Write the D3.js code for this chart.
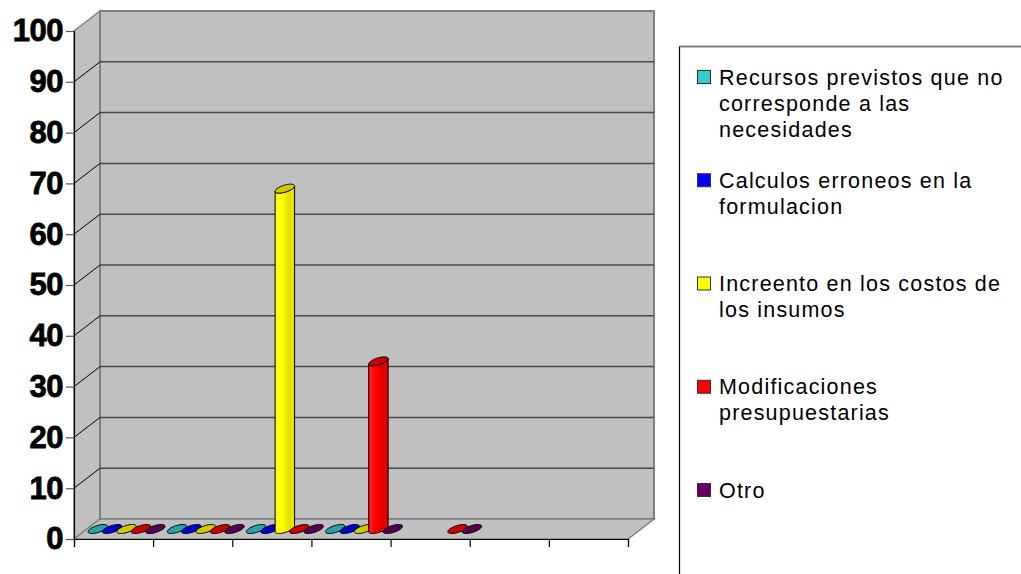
<!DOCTYPE html>
<html>
<head>
<meta charset="utf-8">
<script src="https://cdn.jsdelivr.net/npm/d3@7"></script>
<style>
  html, body { margin: 0; padding: 0; background: #ffffff; }
  svg { display: block; }
</style>
</head>
<body>
<svg id="chart" width="1021" height="574"></svg>
<script>
// ---- data ----
const categories = ["1", "2", "3", "4", "5", "6", "7"];
const seriesNames = [
  "Recursos previstos que no corresponde a las necesidades",
  "Calculos erroneos en la formulacion",
  "Increento en los costos de los insumos",
  "Modificaciones presupuestarias",
  "Otro"
];
const recursos       = [0, 0, 0,  0,  null, null, null];
const calculos       = [0, 0, 0,  0,  null, null, null];
const incremento     = [0, 0, 67, 0,  null, null, null];
const modificaciones = [0, 0, 0,  33, 0,    null, null];
const otro           = [0, 0, 0,  0,  0,    null, null];
const seriesValues = [recursos, calculos, incremento, modificaciones, otro];
const seriesColors = ["#33cccc", "#0000ff", "#ffff00", "#ff0000", "#660066"];
const yTicks = [0, 10, 20, 30, 40, 50, 60, 70, 80, 90, 100];
const legendLines = [
  ["Recursos previstos que no", "corresponde a las", "necesidades"],
  ["Calculos erroneos en la", "formulacion"],
  ["Increento en los costos de", "los insumos"],
  ["Modificaciones", "presupuestarias"],
  ["Otro"]
];

// ---- layout ----
const X0 = 74, X1 = 628;     // front floor edge
const Y0 = 539, Y1 = 31;     // front value axis (0 .. 100)
const DX = 26, DY = -20;     // depth offset to the back wall

const svg = d3.select("#chart");
const defs = svg.append("defs");

const x = d3.scaleBand().domain(categories).range([X0, X1]);
const xs = d3.scaleBand().domain(d3.range(seriesNames.length))
  .range([0, x.bandwidth()]).paddingOuter(0.25);
const xEdge = d3.scaleLinear().domain([0, categories.length]).range([X0, X1]);
const y = d3.scaleLinear().domain([0, 100]).range([Y0, Y1]);

const wallFill = "#c0c0c0", wallEdge = "#808080";

// side wall
svg.append("path")
  .attr("d", `M${X0},${y(100)}L${X0 + DX},${y(100) + DY}L${X0 + DX},${y(0) + DY}L${X0},${y(0)}Z`)
  .attr("fill", wallFill).attr("stroke", wallEdge).attr("stroke-width", 1.5);

// back wall
svg.append("rect")
  .attr("x", X0 + DX).attr("y", y(100) + DY)
  .attr("width", X1 - X0).attr("height", y(0) - y(100))
  .attr("fill", wallFill).attr("stroke", wallEdge).attr("stroke-width", 2);

// floor
svg.append("path")
  .attr("d", `M${X0},${y(0)}L${X1},${y(0)}L${X1 + DX},${y(0) + DY}L${X0 + DX},${y(0) + DY}Z`)
  .attr("fill", wallFill).attr("stroke", wallEdge).attr("stroke-width", 1.5);

// gridlines
const inner = yTicks.filter(t => t > 0 && t < 100);
svg.append("g").selectAll("line").data(inner).join("line")
  .attr("x1", X0 + DX).attr("x2", X1 + DX)
  .attr("y1", d => y(d) + DY).attr("y2", d => y(d) + DY)
  .attr("stroke", "#4a4a4a").attr("stroke-width", 1.5);
svg.append("g").selectAll("line").data(inner).join("line")
  .attr("x1", X0).attr("x2", X0 + DX)
  .attr("y1", d => y(d)).attr("y2", d => y(d) + DY)
  .attr("stroke", "#000000").attr("stroke-width", 1);

// value axis
const yAxis = svg.append("g")
  .attr("transform", `translate(${X0},0)`)
  .call(d3.axisLeft(y).tickValues(yTicks).tickSize(8).tickPadding(3).tickFormat(d3.format("d")));
yAxis.select(".domain").attr("stroke", "#000").attr("stroke-width", 1.2);
yAxis.selectAll(".tick line").attr("stroke", "#555").attr("stroke-width", 1.2);
yAxis.selectAll(".tick text")
  .attr("font-family", "'Liberation Sans', Arial, sans-serif")
  .attr("font-weight", "bold").attr("font-size", 31).attr("fill", "#000")
  .attr("stroke", "#000").attr("stroke-width", 0.8)
  .attr("letter-spacing", -0.5);

// category axis (ticks at category boundaries)
const xAxis = svg.append("g")
  .attr("transform", `translate(0,${Y0})`)
  .call(d3.axisBottom(xEdge).tickValues(d3.range(categories.length + 1)).tickSize(8).tickFormat(""));
xAxis.select(".domain").attr("stroke", "#000").attr("stroke-width", 1.2);
xAxis.selectAll(".tick line").attr("stroke", "#000").attr("stroke-width", 1.2);

// ---- cylinders ----
function shade(c, k) {
  const r = d3.rgb(c);
  if (k >= 1) {
    const t = k - 1;
    return d3.rgb(r.r + (255 - r.r) * t, r.g + (255 - r.g) * t, r.b + (255 - r.b) * t).formatHex();
  }
  return d3.rgb(r.r * k, r.g * k, r.b * k).formatHex();
}
const gradStops = [[0, 0.96], [0.12, 1.12], [0.3, 1.0], [0.5, 0.96], [0.62, 0.9], [0.82, 0.88], [0.88, 0.93], [0.94, 0.88], [1, 0.82]];
seriesColors.forEach((c, j) => {
  const g = defs.append("linearGradient").attr("id", "cyl" + j)
    .attr("x1", 0).attr("x2", 1).attr("y1", 0).attr("y2", 0);
  gradStops.forEach(([o, k]) => g.append("stop").attr("offset", o).attr("stop-color", shade(c, k)));
});

const depthFrac = 0.45;
const b = -DY * depthFrac / 2;     // vertical half-extent of the base ellipse
const a = DX * depthFrac / 2;      // horizontal skew from depth
const rr = xs.bandwidth() / 2 + 0.6;
const t0 = Math.atan2(a, rr);

function ellipsePt(cx, yc, t) {
  return [cx + rr * Math.cos(t) + a * Math.sin(t), yc - b * Math.sin(t)];
}
function ellipsePath(cx, yc) {
  const pts = d3.range(0, 64).map(i => ellipsePt(cx, yc, i / 64 * 2 * Math.PI));
  return "M" + pts.map(p => p.join(",")).join("L") + "Z";
}
function bodyPath(cx, yb, yt) {
  const n = 32;
  const front = d3.range(0, n + 1).map(i => t0 + Math.PI + i / n * Math.PI);
  const bottom = front.map(t => ellipsePt(cx, yb, t));
  const top = front.slice().reverse().map(t => ellipsePt(cx, yt, t));
  return "M" + top[top.length - 1].join(",") + "L" + bottom.map(p => p.join(",")).join("L") +
    "L" + top.map(p => p.join(",")).join("L") + "Z";
}

const bars = svg.append("g");
categories.forEach((cat, i) => {
  seriesValues.forEach((vals, j) => {
    const v = vals[i];
    if (v === null || v === undefined) return;
    const cx = x(cat) + xs(j) + xs.bandwidth() / 2 + DX / 2;
    const yb = y(0) + DY / 2;
    const yt = y(v) + DY / 2;
    const topColor = shade(seriesColors[j], 0.8);
    if (v > 0) {
      bars.append("path").attr("d", bodyPath(cx, yb, yt))
        .attr("fill", `url(#cyl${j})`).attr("stroke", "#000").attr("stroke-width", 1)
        .attr("stroke-linejoin", "round");
    }
    bars.append("path").attr("d", ellipsePath(cx, yt))
      .attr("fill", topColor).attr("stroke", "#000").attr("stroke-width", 1)
      .attr("stroke-linejoin", "round");
  });
});

// ---- legend ----
const LX = 679.5, LY = 46.5;
const legend = svg.append("g");
legend.append("rect").attr("x", LX).attr("y", LY).attr("width", 400).attr("height", 600).attr("fill", "#fff");
legend.append("line").attr("x1", LX).attr("x2", 1021).attr("y1", LY).attr("y2", LY)
  .attr("stroke", "#808080").attr("stroke-width", 2);
legend.append("line").attr("x1", LX).attr("x2", LX).attr("y1", LY).attr("y2", 574)
  .attr("stroke", "#000").attr("stroke-width", 1.2);

const firstLine = 77, entryStep = 103.25, lineStep = 26;
legendLines.forEach((lines, j) => {
  const cy = firstLine + j * entryStep;
  legend.append("rect").attr("x", 697.5).attr("y", cy - 6.5).attr("width", 13).attr("height", 13)
    .attr("fill", seriesColors[j]).attr("stroke", "#333").attr("stroke-width", 1);
  const t = legend.append("text")
    .attr("font-family", "'Liberation Sans', Arial, sans-serif")
    .attr("font-size", 21.5).attr("letter-spacing", 1.2).attr("fill", "#000");
  lines.forEach((ln, k) => {
    t.append("tspan").attr("x", 719).attr("y", cy + 7.5 + k * lineStep).text(ln);
  });
});
</script>
</body>
</html>
